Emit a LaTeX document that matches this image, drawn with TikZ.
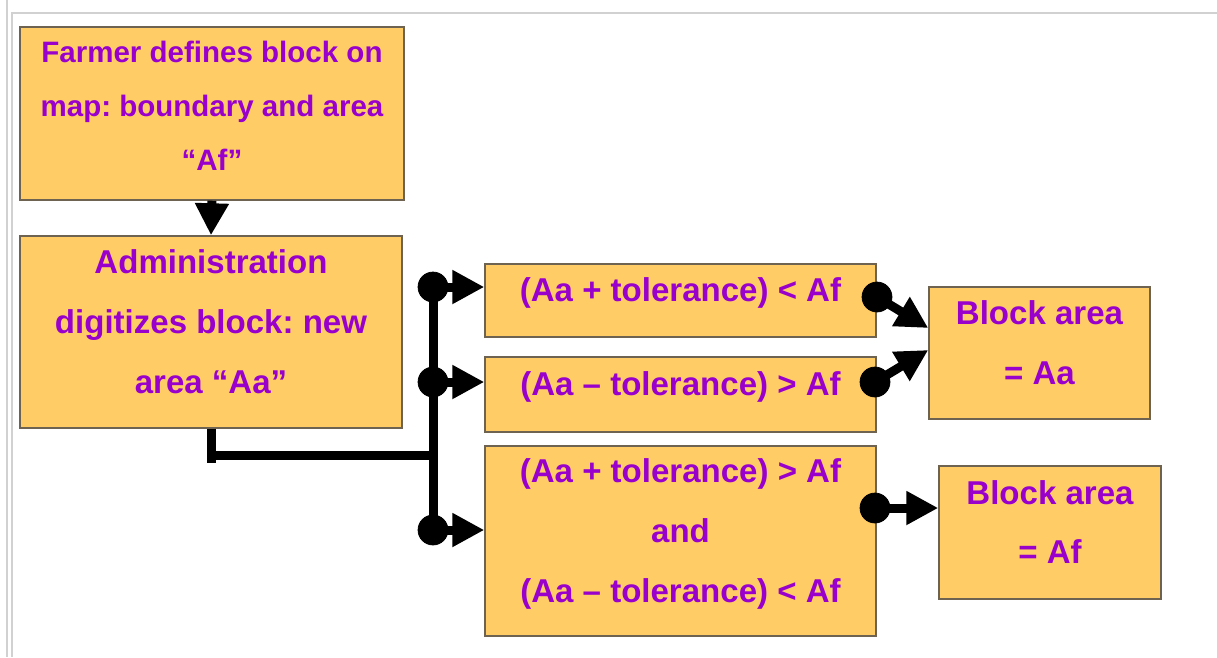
\documentclass[tikz,border=0pt]{standalone}
\usepackage{fontspec}
\setmainfont{Liberation Sans}
\usetikzlibrary{arrows.meta}
\frenchspacing

\definecolor{boxfill}{HTML}{FFCC66}
\definecolor{boxtext}{HTML}{9900CC}
\definecolor{boxedge}{HTML}{6E6250}

\begin{document}
\begin{tikzpicture}[x=0.02cm, y=-0.02cm,
    block/.style={draw=boxedge, fill=boxfill, text=boxtext, line width=0.03cm,
      align=center, inner sep=0pt, text depth=0.42cm,
      font=\bfseries\fontsize{18.8}{34}\selectfont},
    flow/.style={line width=0.18cm, -{Triangle[length=0.64cm, width=0.64cm]}}]
    % Draw frame
    \useasboundingbox (0,0) rectangle (1217,657);
    \draw [black!18, line width=0.03cm] (7,0) -- (7,657);
    \draw [black!18, line width=0.03cm] (12,657) -- (12,13) -- (1217,13);

    % Draw boxes
    \node (farmer) [block, minimum width=7.68cm, minimum height=3.46cm, text depth=0.32cm,
      font=\bfseries\fontsize{16.8}{30.7}\selectfont] at (212,113.5)
      {Farmer defines block on\\map: boundary and area\\“Af”};
    \node (admin) [block, minimum width=7.64cm, minimum height=3.84cm] at (211,332)
      {Administration\\digitizes block: new\\area “Aa”};
    \node (lt) [block, minimum width=7.82cm, minimum height=1.46cm] at (680.5,300.5)
      {(Aa + tolerance) < Af};
    \node (gt) [block, minimum width=7.82cm, minimum height=1.5cm] at (680.5,394.5)
      {(Aa – tolerance) > Af};
    \node (within) [block, minimum width=7.82cm, minimum height=3.8cm] at (680.5,541)
      {(Aa + tolerance) > Af\\and\\(Aa – tolerance) < Af};
    \node (areaAa) [block, minimum width=4.42cm, minimum height=2.64cm] at (1039.5,353)
      {Block area\\= Aa};
    \node (areaAf) [block, minimum width=4.44cm, minimum height=2.66cm] at (1050,532.5)
      {Block area\\= Af};

    % Draw branch points
    \coordinate (fork) at (433,455);
    \coordinate (stub) at (211,463);
    \coordinate (l_1) at (433,287);
    \coordinate (l_2) at (433,382);
    \coordinate (l_3) at (433,530);
    \coordinate (r_1) at (877,297);
    \coordinate (r_2) at (875,382);
    \coordinate (r_3) at (875,508);

    % Draw connectors
    \draw [flow] (farmer.south) -- (admin.north);
    \draw [line width=0.18cm] (admin.south) -- (stub);
    \draw [line width=0.18cm] (admin.south |- fork) -- (fork);
    \draw [line width=0.18cm] (l_1) -- (l_3);
    \draw [flow] (l_1) -- (l_1 -| lt.west);
    \draw [flow] (l_2) -- (l_2 -| gt.west);
    \draw [flow] (l_3) -- (l_3 -| within.west);
    \draw [flow] (r_1) -- ([yshift=0.5cm]areaAa.west);
    \draw [flow] (r_2) -- ([yshift=0.06cm]areaAa.west);
    \draw [flow] (r_3) -- (r_3 -| areaAf.west);

    \filldraw [black] (l_1) circle (0.3cm);
    \filldraw [black] (l_2) circle (0.3cm);
    \filldraw [black] (l_3) circle (0.3cm);
    \filldraw [black] (r_1) circle (0.3cm);
    \filldraw [black] (r_2) circle (0.3cm);
    \filldraw [black] (r_3) circle (0.3cm);
  \end{tikzpicture}
\end{document}
